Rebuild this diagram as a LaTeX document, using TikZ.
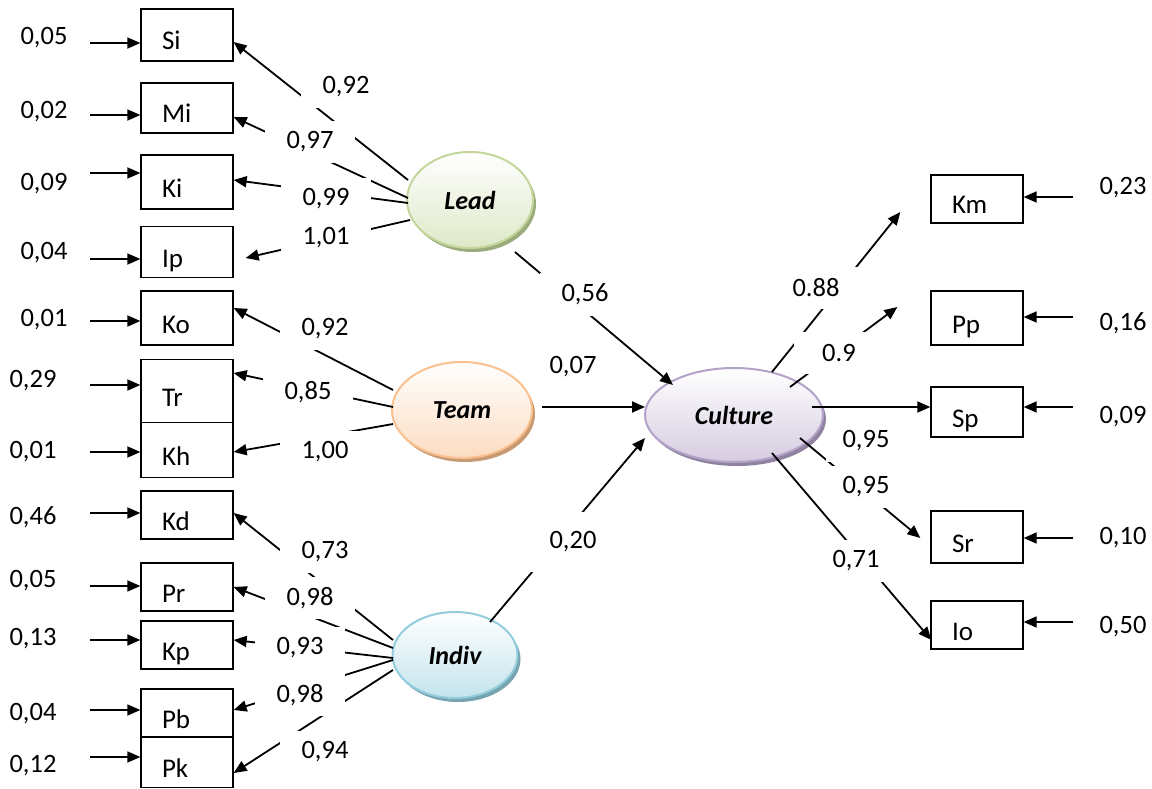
\documentclass[tikz,border=0pt]{standalone}
\usepackage{fontspec}
\setmainfont{Carlito}
\usetikzlibrary{arrows.meta,calc,shapes.geometric,shadows}
\definecolor{leadc}{HTML}{C3D69B}
\definecolor{teamc}{HTML}{FAC090}
\definecolor{cultc}{HTML}{B3A2C7}
\definecolor{indivc}{HTML}{93CDDD}
\begin{document}
\begin{tikzpicture}[x=1pt, y=-1pt, line width=1.8pt,
    flecha/.style={-{Triangle[length=13pt,width=11pt]}},
    caja/.style={draw, line width=1.3pt, text width=50pt, inner xsep=21pt,
      inner ysep=0pt, align=left, text height=32pt, text depth=2pt,
      font=\fontsize{27}{30}\selectfont},
    num/.style={inner sep=0pt, font=\fontsize{26.5}{30}\selectfont},
    carga/.style={num, fill=white, minimum width=90pt, minimum height=42pt},
    latente/.style={ellipse, draw=#1, line width=2pt, inner sep=0pt,
      top color=white, bottom color=#1!55,
      drop shadow={shadow xshift=3pt, shadow yshift=-4pt, fill=#1!80!black, opacity=1},
      font=\fontsize{26}{30}\selectfont\bfseries\itshape}]
  \useasboundingbox (0,0) rectangle (1152,789);
  % los cuatro factores
  \node[latente=leadc, minimum width=126pt, minimum height=96pt] (Lead) at (470,200) {Lead};
  \node[latente=teamc, minimum width=140pt, minimum height=96pt] (Team) at (462,410) {Team};
  \node[latente=cultc, minimum width=178pt, minimum height=94pt] (Culture) at (734,415) {Culture};
  \node[latente=indivc, minimum width=125pt, minimum height=86pt] (Indiv) at (455,655) {Indiv};
  % indicadores de la izquierda, con su error
  \foreach \n/\y/\h/\e/\ex/\ey/\a in {Si/35/52/{0,05}/44/38/43, Mi/108/50/{0,02}/44/112/115,
      Ki/182/54/{0,09}/44/184/173, Ip/252/51/{0,04}/44/253/259, Ko/318/54/{0,01}/44/320/321,
      Tr/391/63/{0,29}/33/381/385, Kh/450/55/{0,01}/33/452/452, Kd/515/48/{0,46}/33/517/513,
      Pr/587/48/{0,05}/33/581/586, Kp/645/48/{0,13}/33/639/640, Pb/713/48/{0,04}/33/714/710,
      Pk/762/51/{0,12}/33/766/757} {
    \node[caja, minimum height=\h] (\n) at (187,\y) {\n};
    \node[num] (e\n) at (\ex,\ey) {\e};
    \coordinate (s\n) at (90,\a);
    \draw[flecha] (s\n) -- (s\n -| \n.west);
  }
  % indicadores de la derecha
  \foreach \n/\y/\h/\e/\ey/\a in {Km/199/48/{0,23}/188/197, Pp/318/54/{0,16}/323/317,
      Sp/412/50/{0,09}/417/407, Sr/537/52/{0,10}/538/538, Io/625/48/{0,50}/627/622} {
    \node[caja, minimum height=\h] (\n) at (977,\y) {\n};
    \node[num] (e\n) at (1123,\ey) {\e};
    \coordinate (s\n) at (1073,\a);
    \draw[flecha] (s\n) -- (s\n -| \n.east);
  }
  % cargas de cada factor
  \foreach \n/\dx/\dy/\tx/\ty in {Si/-62/-20/0/7, Mi/-62/-2/0/9, Ki/-62/3/0/-2, Ip/-60/20/12/6}
    \draw[flecha] ($(Lead.center)+(\dx,\dy)$) -- ($(\n.east)+(\tx,\ty)$);
  \foreach \n/\dx/\dy/\ty in {Ko/-69/-20/-10, Tr/-69/-3/-18, Kh/-69/14/2}
    \draw[flecha] ($(Team.center)+(\dx,\dy)$) -- ($(\n.east)+(0,\ty)$);
  \foreach \n/\dy/\ty in {Kd/-15/-2, Pr/-7/0, Kp/3/-5, Pb/5/-3, Pk/15/11}
    \draw[flecha] ($(Indiv.center)+(-62,\dy)$) -- ($(\n.east)+(0,\ty)$);
  \foreach \n/\dx/\dy/\tx/\ty in {Km/38/-43/-30/13, Pp/56/-28/-33/-11, Sp/78/-8/0/-5,
      Sr/66/23/-10/1, Io/38/38/1/15}
    \draw[flecha] ($(Culture.center)+(\dx,\dy)$) -- ($(\n.west)+(\tx,\ty)$);
  % caminos hacia la cultura
  \draw[flecha] ($(Lead.center)+(45,52)$) -- ($(Culture.center)+(-61,-30)$);
  \draw[flecha] ($(Team.center)+(80,-3)$) -- ($(Culture.center)+(-89,-8)$);
  \draw[flecha] ($(Indiv.center)+(35,-33)$) -- ($(Culture.center)+(-89,23)$);
  % los valores, en cajas blancas que tapan las lineas
  \foreach \t/\x/\y [count=\i] in {{0,92}/346/87, {0,97}/310/142, {0,99}/326/199, {1,01}/326/238,
      {0,92}/325/329, {0,85}/308/392, {1,00}/325/452,
      {0,73}/325/552, {0,98}/310/598, {0,93}/300/648, {0,98}/300/695, {0,94}/325/752,
      {0,07}/573/367, 0.88/816/288, 0.9/839/353, {0,95}/866/487, {0,71}/856/561}
    \node[carga] (carga\i) at (\x,\y) {\t};
  \node[carga, minimum height=43pt] (cargaLC) at (585,294) {0,56};
  \node[carga, minimum height=60pt] (cargaIC) at (573,542) {0,20};
  \node[carga, minimum width=80pt] (cargaSp) at (866,441) {0,95};
\end{tikzpicture}
\end{document}
